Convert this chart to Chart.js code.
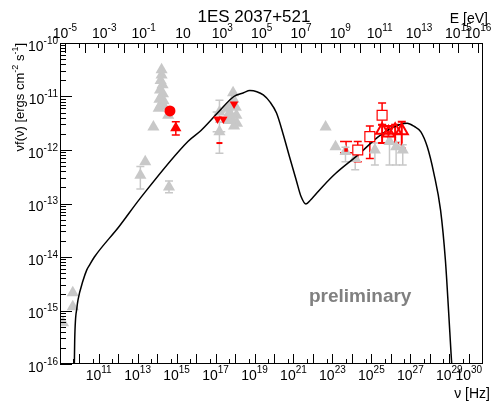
<!DOCTYPE html>
<html>
<head>
<meta charset="utf-8">
<script src="https://cdn.jsdelivr.net/npm/chart.js@4"></script>
<style>
html, body { margin: 0; padding: 0; background: #fff; }
#sed { display: block; }
</style>
</head>
<body>
<canvas id="sed" width="492" height="403"></canvas>
<script>
// All values are log10: nu in Hz, nuFnu in ergs cm^-2 s^-1

// SSC model curve
const modelLogNu = [9.75, 9.77, 9.89, 9.94, 10.19, 10.39, 10.53, 10.78, 12.05, 13.14, 15.58, 16.24, 17.10, 17.94, 18.44, 18.76, 19.12, 19.45, 19.79, 20.13, 20.46, 20.80, 21.14, 21.39, 21.64, 21.89, 22.48, 23.16, 24.32, 25.33, 26.02, 26.84, 27.20, 27.54, 27.87, 28.21, 28.55, 28.80, 28.96, 29.08, 29.13];
const modelLogFlux = [-16.04, -15.55, -14.93, -14.80, -14.45, -14.24, -14.15, -14.0, -13.43, -12.90, -11.84, -11.64, -11.31, -11.0, -10.93, -10.89, -10.91, -10.97, -11.10, -11.31, -11.69, -12.13, -12.56, -12.87, -13.01, -12.93, -12.69, -12.44, -12.09, -11.76, -11.59, -11.50, -11.56, -11.66, -11.94, -12.44, -13.12, -14.06, -14.99, -15.74, -16.04];

// archival data (grey triangles, no errors)
const archLogNu = [9.67, 9.67, 9.17, 13.39,
  14.23, 14.23, 14.18, 14.28, 14.15, 14.30, 14.12, 14.33, 14.20, 14.35, 14.08, 14.57, 13.81,
  17.90, 17.92, 17.82, 18.04, 17.72, 18.07, 17.85, 18.10, 17.95, 17.60, 17.70, 22.65, 23.16];
const archLogFlux = [-14.67, -14.93, -15.23, -12.22,
  -10.50, -10.60, -10.70, -10.78, -10.88, -10.95, -11.05, -11.08, -11.15, -11.18, -11.22, -11.35, -11.57,
  -10.93, -11.05, -11.15, -11.20, -11.30, -11.35, -11.42, -11.50, -11.55, -11.22, -11.45, -11.57, -11.94];

// archival data with error bars (grey)
const archErrLogNu = [13.14, 14.61, 17.20, 17.20, 23.67, 24.17, 25.18, 25.93, 26.27, 26.61];
const archErrLogFlux = [-12.47, -12.69, -11.29, -11.66, -12.03, -12.16, -12.0, -11.84, -11.94, -12.0];
const archErrLo = [-12.73, -12.80, -11.48, -12.06, -12.22, -12.37, -12.28, -12.28, -12.28, -12.28];
const archErrHi = [-12.31, -12.58, -11.07, -11.48, -11.95, -12.05, -11.87, -11.75, -11.85, -11.90];
const archErrNuLo = [null, null, 16.85, 16.85, null, null, null, null, null, null];
const archErrNuHi = [null, null, 17.50, 17.50, null, null, null, null, null, null];

// this campaign (red)
const optCircleLogNu = [14.66];
const optCircleLogFlux = [-11.27];
const optTriLogNu = [14.96];
const optTriLogFlux = [-11.59];
const optTriLo = [-11.72];
const optTriHi = [-11.47];
const xrayLogNu = [17.95, 17.10, 17.40];
const xrayLogFlux = [-11.14, -11.42, -11.42];
const xrayDashLogNu = [17.20];
const xrayDashLogFlux = [-11.87];
const lateLogNu = [23.70];
const lateLogFlux = [-12.0];
const lateLo = [-12.05];
const lateHi = [-11.84];
const fermiLogNu = [24.30, 24.92, 25.55];
const fermiLogFlux = [-12.0, -11.75, -11.35];
const fermiLo = [-12.22, -12.16, -11.53];
const fermiHi = [-11.84, -11.55, -11.12];
const vhLogNu = [25.55, 25.88, 26.22, 26.56];
const vhLogFlux = [-11.63, -11.68, -11.63, -11.64];
const vhLo = [-11.87, -11.87, -11.87, -11.97];
const vhHi = [-11.53, -11.55, -11.53, -11.47];

// axis ticks (exponents)
const yTickExp = [-16, -15, -14, -13, -12, -11, -10];
const nuLabelExp = [11, 13, 15, 17, 19, 21, 23, 25, 27, 29, 30];
const eLabelExp = [-5, -3, -1, 1, 3, 5, 7, 9, 11, 13, 15, 16];

const FONT = '"Liberation Sans", Arial, Helvetica, sans-serif';
const GREY = '#c8c8c8';
const RED = '#ff0000';

function pts(lx, ly) {
    return lx.map((v, i) => ({ x: 10 ** v, y: 10 ** ly[i] }));
}
function pw(arr) {
    return arr.map(v => v == null ? null : 10 ** v);
}

// error bars drawn under the markers
const errorBars = {
    id: 'errorBars',
    beforeDatasetsDraw(chart) {
        const ctx = chart.ctx, sx = chart.scales.x, sy = chart.scales.y;
        const a = chart.chartArea;
        ctx.save();
        ctx.beginPath();
        ctx.rect(a.left, a.top, a.right - a.left, a.bottom - a.top);
        ctx.clip();
        chart.data.datasets.forEach(ds => {
            if (!ds.errLo) return;
            ctx.strokeStyle = ds.errColor;
            ctx.lineWidth = ds.errWidth;
            const cap = ds.capHalf || 3;
            ds.data.forEach((p, j) => {
                const px = sx.getPixelForValue(p.x);
                const py = sy.getPixelForValue(p.y);
                const lo = sy.getPixelForValue(ds.errLo[j]);
                const hi = sy.getPixelForValue(ds.errHi[j]);
                ctx.beginPath();
                ctx.moveTo(px, lo); ctx.lineTo(px, hi);
                ctx.moveTo(px - cap, lo); ctx.lineTo(px + cap, lo);
                ctx.moveTo(px - cap, hi); ctx.lineTo(px + cap, hi);
                if (ds.nuLo && ds.nuLo[j] != null) {
                    const l = sx.getPixelForValue(ds.nuLo[j]);
                    const r = sx.getPixelForValue(ds.nuHi[j]);
                    ctx.moveTo(l, py); ctx.lineTo(r, py);
                }
                ctx.stroke();
            });
        });
        ctx.restore();
    }
};

function powLabel(ctx, e, x, y, align) {
    const ex = e === 1 ? '' : String(e);
    ctx.font = '14px ' + FONT;
    const wb = ctx.measureText('10').width;
    ctx.font = '10px ' + FONT;
    const we = ex ? ctx.measureText(ex).width : 0;
    const x0 = align === 'right' ? x - wb - we : x - (wb + we) / 2;
    ctx.textAlign = 'left';
    ctx.textBaseline = 'alphabetic';
    ctx.font = '14px ' + FONT;
    ctx.fillText('10', x0, y);
    if (ex) {
        ctx.font = '10px ' + FONT;
        ctx.fillText(ex, x0 + wb, y - 7);
    }
}

// ROOT style frame with inward ticks and labels
const rootAxes = {
    id: 'rootAxes',
    afterDraw(chart) {
        const ctx = chart.ctx, a = chart.chartArea;
        const sx = chart.scales.x, sy = chart.scales.y, st = chart.scales.xTop;
        ctx.save();
        ctx.strokeStyle = '#000';
        ctx.fillStyle = '#000';
        ctx.lineWidth = 1;
        ctx.strokeRect(a.left + 0.5, a.top + 0.5, a.right - a.left - 1, a.bottom - a.top - 1);

        ctx.beginPath();
        // y axis: decades + 2..9
        for (let d = yTickExp[0]; d < yTickExp[yTickExp.length - 1]; d++) {
            for (let m = 1; m <= 9; m++) {
                const py = Math.round(sy.getPixelForValue(m * 10 ** d)) + 0.5;
                ctx.moveTo(a.left, py);
                ctx.lineTo(a.left + (m === 1 ? 12 : 6), py);
            }
        }
        // bottom axis: decades + 5x
        for (let d = 9; d <= 31; d++) {
            [1, 5].forEach(m => {
                const v = m * 10 ** d;
                if (v < sx.min || v > sx.max) return;
                const px = Math.round(sx.getPixelForValue(v)) + 0.5;
                ctx.moveTo(px, a.bottom);
                ctx.lineTo(px, a.bottom - (m === 1 ? 10 : 5));
            });
        }
        // top axis (E)
        for (let d = -6; d <= 17; d++) {
            [1, 5].forEach(m => {
                const v = m * 10 ** d;
                if (v < st.min || v > st.max) return;
                const px = Math.round(st.getPixelForValue(v)) + 0.5;
                ctx.moveTo(px, a.top);
                ctx.lineTo(px, a.top + (m === 1 ? 10 : 5));
            });
        }
        ctx.stroke();

        yTickExp.forEach(e => powLabel(ctx, e, 58, sy.getPixelForValue(10 ** e) + 7.5, 'right'));
        nuLabelExp.forEach(e => powLabel(ctx, e, sx.getPixelForValue(10 ** e), 380, 'center'));
        eLabelExp.forEach(e => powLabel(ctx, e, st.getPixelForValue(10 ** e), 38, 'center'));

        // titles
        ctx.font = '17px ' + FONT;
        ctx.textAlign = 'center';
        ctx.fillText('1ES 2037+521', 254, 22);
        ctx.font = '14px ' + FONT;
        ctx.textAlign = 'right';
        ctx.fillText('E [eV]', 488, 23);
        ctx.fillText('\u03bd [Hz]', 490, 398);

        // y title, rotated, with superscripts
        const parts = [['\u03bdf(\u03bd) [ergs cm', 0], ['-2', 1], [' s', 0], ['-1', 1], [']', 0]];
        ctx.save();
        ctx.translate(24, 43);
        ctx.rotate(-Math.PI / 2);
        ctx.textAlign = 'left';
        let total = 0;
        parts.forEach(p => { ctx.font = (p[1] ? '9px ' : '13px ') + FONT; total += ctx.measureText(p[0]).width; });
        let cx = -total;
        parts.forEach(p => {
            ctx.font = (p[1] ? '9px ' : '13px ') + FONT;
            ctx.fillText(p[0], cx, p[1] ? -6 : 0);
            cx += ctx.measureText(p[0]).width;
        });
        ctx.restore();

        ctx.font = 'bold 19px ' + FONT;
        ctx.fillStyle = '#808080';
        ctx.textAlign = 'left';
        ctx.fillText('preliminary', 309, 302);
        ctx.restore();
    }
};

const datasets = [
    {
        label: 'model', data: pts(modelLogNu, modelLogFlux), showLine: true,
        borderColor: '#000', borderWidth: 1.5, pointRadius: 0,
        cubicInterpolationMode: 'monotone', order: 1
    },
    {
        label: 'archival', data: pts(archLogNu, archLogFlux),
        pointStyle: 'triangle', pointRadius: 7, backgroundColor: GREY, borderWidth: 0, order: 3
    },
    {
        label: 'archival err', data: pts(archErrLogNu, archErrLogFlux),
        errLo: pw(archErrLo), errHi: pw(archErrHi), nuLo: pw(archErrNuLo), nuHi: pw(archErrNuHi),
        errColor: GREY, errWidth: 1.5, capHalf: 4,
        pointStyle: 'triangle', pointRadius: 7, backgroundColor: GREY, borderWidth: 0, order: 3
    },
    {
        label: 'optical circle', data: pts(optCircleLogNu, optCircleLogFlux),
        pointStyle: 'circle', pointRadius: 5.5, backgroundColor: RED, borderWidth: 0, order: 0
    },
    {
        label: 'optical tri', data: pts(optTriLogNu, optTriLogFlux),
        errLo: pw(optTriLo), errHi: pw(optTriHi), errColor: RED, errWidth: 1.5, capHalf: 4,
        pointStyle: 'triangle', pointRadius: 6.5, backgroundColor: RED, borderWidth: 0, order: 0
    },
    {
        label: 'xray', data: pts(xrayLogNu, xrayLogFlux),
        pointStyle: 'triangle', pointRotation: 180, pointRadius: 5, backgroundColor: RED, borderWidth: 0, order: 0
    },
    {
        label: 'xray dash', data: pts(xrayDashLogNu, xrayDashLogFlux),
        pointStyle: 'line', pointRadius: 3, borderColor: RED, borderWidth: 2, order: 0
    },
    {
        label: 'late', data: pts(lateLogNu, lateLogFlux),
        errLo: pw(lateLo), errHi: pw(lateHi), errColor: RED, errWidth: 1.5, capHalf: 6,
        pointStyle: 'rect', pointRadius: 2.5, backgroundColor: RED, borderWidth: 0, order: 0
    },
    {
        label: 'fermi', data: pts(fermiLogNu, fermiLogFlux),
        errLo: pw(fermiLo), errHi: pw(fermiHi), errColor: RED, errWidth: 1.5, capHalf: 4,
        pointStyle: 'rect', pointRadius: 7, backgroundColor: '#ffffff', borderColor: RED, borderWidth: 1.2, order: 0
    },
    {
        label: 'vhe', data: pts(vhLogNu, vhLogFlux),
        errLo: pw(vhLo), errHi: pw(vhHi), errColor: RED, errWidth: 2, capHalf: 4,
        pointStyle: 'triangle', pointRadius: 7, backgroundColor: 'rgba(0,0,0,0)', borderColor: RED, borderWidth: 2, order: 0
    }
];

new Chart(document.getElementById('sed'), {
    type: 'scatter',
    data: { datasets: datasets },
    options: {
        responsive: false,
        animation: false,
        layout: { padding: { left: 60, top: 43, right: 2, bottom: 39 } },
        plugins: { legend: { display: false }, tooltip: { enabled: false } },
        scales: {
            x: { type: 'logarithmic', min: 10 ** 9.015, max: 10 ** 30.73, display: false },
            y: { type: 'logarithmic', min: 1e-16, max: 1e-10, display: false },
            xTop: { type: 'logarithmic', position: 'top', min: 10 ** -5.25, max: 10 ** 16.25, display: false }
        }
    },
    plugins: [errorBars, rootAxes]
});
</script>
</body>
</html>
